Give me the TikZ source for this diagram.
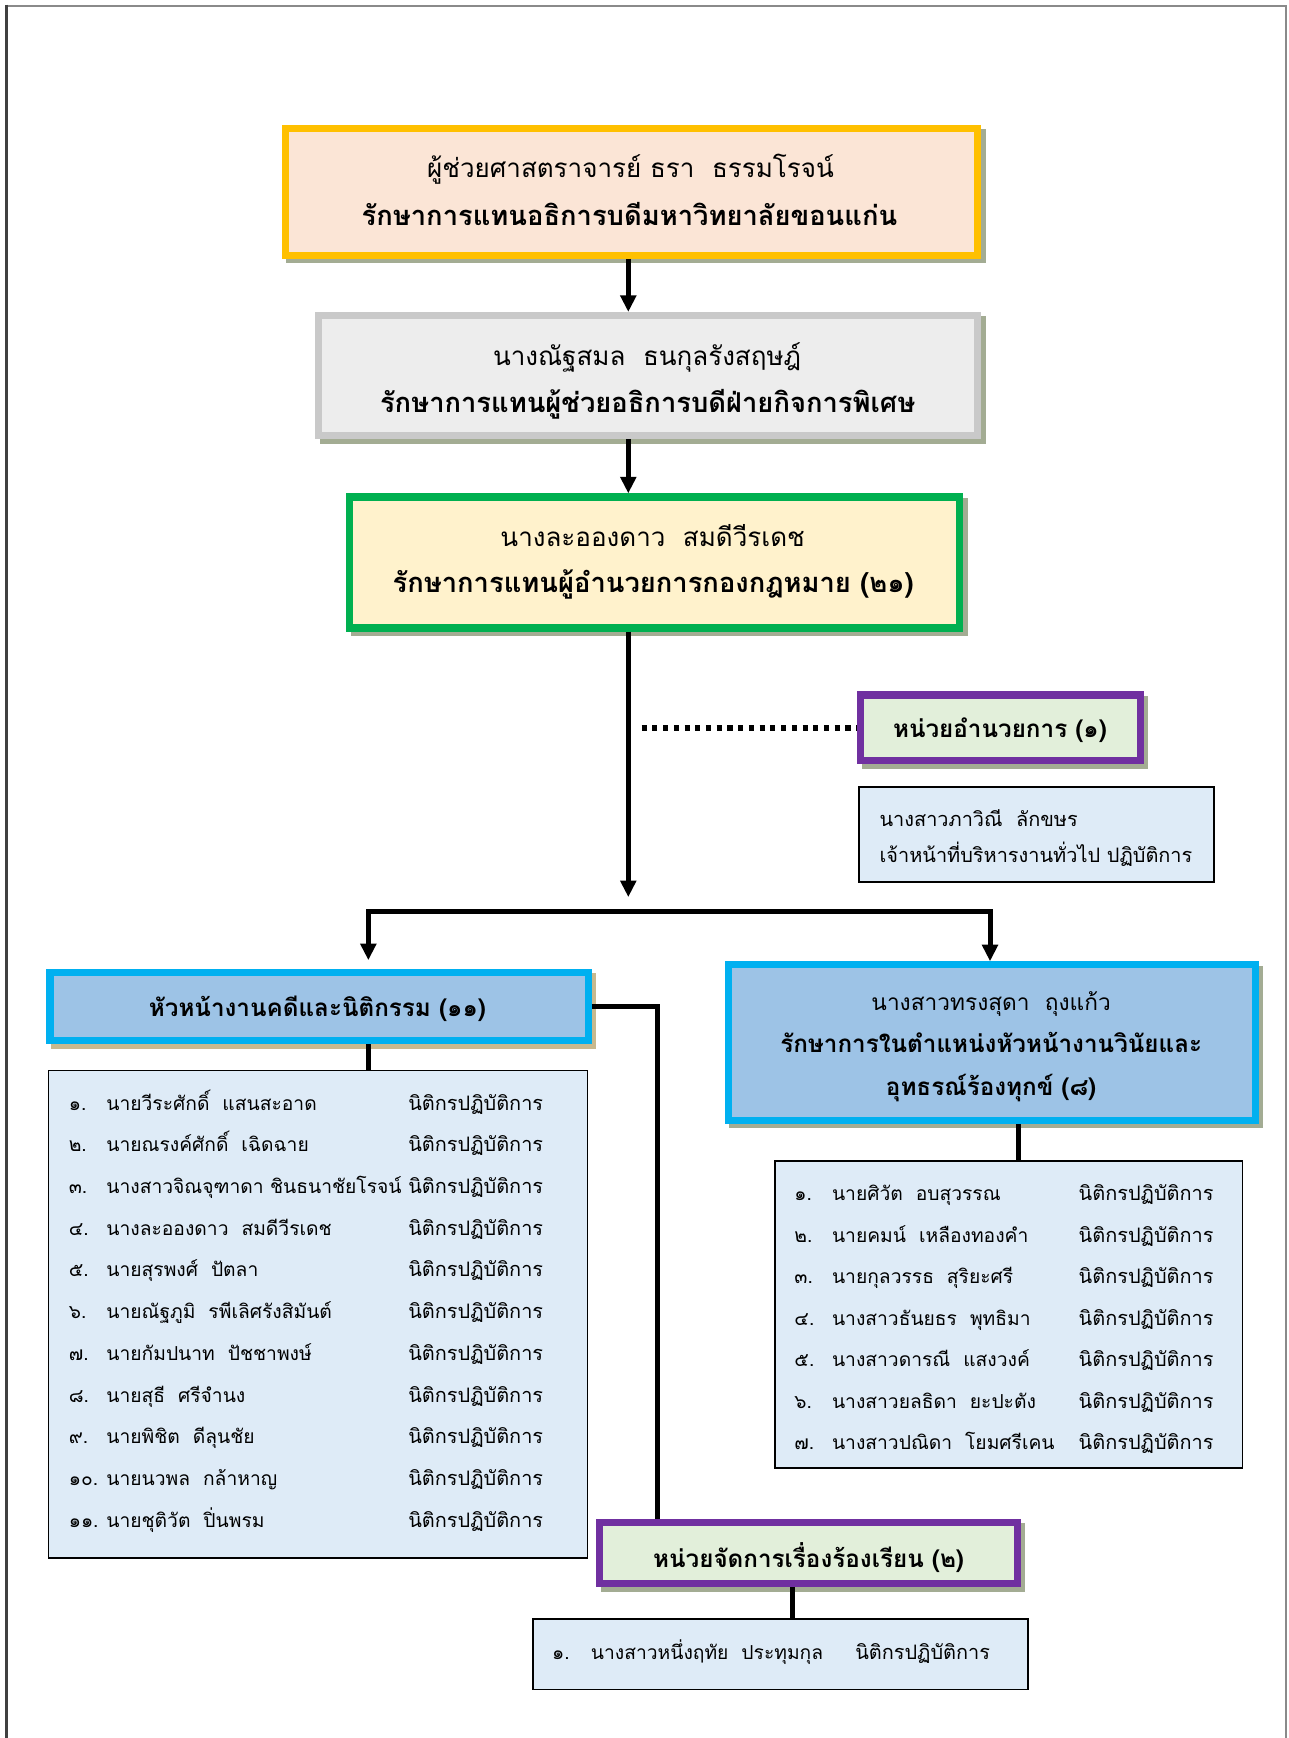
\documentclass[tikz,border=0pt]{standalone}
\usepackage{fontspec}
\setmainfont[Script=Thai]{Loma}
\usetikzlibrary{arrows.meta,shadows}
\definecolor{orgB}{HTML}{FFC000}
\definecolor{orgF}{HTML}{FBE5D6}
\definecolor{gryB}{HTML}{C9C9C9}
\definecolor{gryF}{HTML}{EDEDED}
\definecolor{grnB}{HTML}{00B050}
\definecolor{grnF}{HTML}{FFF2CC}
\definecolor{purB}{HTML}{7030A0}
\definecolor{purF}{HTML}{E2EFDA}
\definecolor{bluB}{HTML}{00B0F0}
\definecolor{bluF}{HTML}{9DC3E6}
\definecolor{lstF}{HTML}{DEEBF7}
\definecolor{shdG}{HTML}{A3AC93}
\definecolor{shdT}{HTML}{C8B98E}
\definecolor{frmL}{HTML}{404040}
\definecolor{frmG}{HTML}{8A8A8A}
\tikzset{
  tbox/.style={rectangle, line width=6.5pt, inner sep=0pt,
    drop shadow={shadow xshift=4pt, shadow yshift=-4pt, fill=shdG, draw=shdG, opacity=1}},
  tboxT/.style={rectangle, line width=6.5pt, inner sep=0pt,
    drop shadow={shadow xshift=4pt, shadow yshift=-4pt, fill=shdT, draw=shdT, opacity=1}},
  lbox/.style={rectangle, draw=black, line width=1.5pt, fill=lstF, inner sep=0pt},
  hreg/.style={font=\fontsize{23.5}{28}\selectfont, anchor=mid, inner sep=0pt},
  hbold/.style={font=\fontsize{24.7}{29}\selectfont\bfseries, anchor=mid, inner sep=0pt},
  sreg/.style={font=\fontsize{20.5}{25}\selectfont, anchor=mid, inner sep=0pt},
  sbold/.style={font=\fontsize{21.9}{26}\selectfont\bfseries, anchor=mid, inner sep=0pt},
  lreg/.style={font=\fontsize{18}{22}\selectfont, anchor=mid west, inner sep=0pt},
  lname/.style={font=\fontsize{17.4}{21}\selectfont, anchor=mid west, inner sep=0pt},
  conn/.style={line width=4.5pt},
  arrowc/.style={conn, -{Triangle[width=14pt,length=15pt]}},
  dotc/.style={line width=4.8pt, dash pattern=on 4.6pt off 5.1pt}
}
\begin{document}
\begin{tikzpicture}[x=1pt,y=-1pt]
\useasboundingbox (0,0) rectangle (1165.2,1571.2);
% page frame
\draw[frmG, line width=2pt] (5.9,5.2) -- (1162.6,5.2) -- (1162.6,1580);
\draw[frmL, line width=2pt] (5.9,4.2) -- (5.9,1580);

% boxes
\node[tbox, draw=orgB, fill=orgF, minimum width=625.5pt, minimum height=114.5pt] (b1) at (571,173.5) {};
\node[tbox, draw=gryB, fill=gryF, minimum width=595.5pt, minimum height=108.5pt] (b2) at (586,339.5) {};
\node[tbox, draw=grnB, fill=grnF, minimum width=551.5pt, minimum height=118.5pt] (b3) at (592,508.5) {};
\node[tbox, draw=purB, fill=purF, minimum width=252.5pt, minimum height=59.5pt] (ua) at (904.5,658) {};
\node[lbox, minimum width=320.5pt, minimum height=85.5pt] (uas) at (937,754.5) {};
\node[tboxT, draw=bluB, fill=bluF, minimum width=486.5pt, minimum height=61.5pt] (lh) at (288.5,910) {};
\node[lbox, minimum width=487.5pt, minimum height=440.5pt] (ll) at (287.5,1188) {};
\node[tbox, draw=bluB, fill=bluF, minimum width=476.5pt, minimum height=140.5pt] (rh) at (896.5,942.5) {};
\node[lbox, minimum width=422.5pt, minimum height=277.5pt] (rl) at (912,1188.5) {};
\node[tbox, draw=purB, fill=purF, minimum width=377.5pt, minimum height=55.5pt] (bh) at (731,1404) {};
\node[lbox, minimum width=447.5pt, minimum height=63.5pt] (bl) at (705.5,1495.5) {};

% texts
\node[hreg] (b1a) at (570,158) {ผู้ช่วยศาสตราจารย์ ธรา~ ธรรมโรจน์};
\node[hbold] (b1b) at (569,201) {รักษาการแทนอธิการบดีมหาวิทยาลัยขอนแก่น};
\node[hreg] (b2a) at (585,328) {นางณัฐสมล~ ธนกุลรังสฤษฎ์};
\node[hbold] (b2b) at (585.5,370) {รักษาการแทนผู้ช่วยอธิการบดีฝ่ายกิจการพิเศษ};
\node[hreg] (b3a) at (590,491) {นางละอองดาว~ สมดีวีรเดช};
\node[hbold] (b3b) at (590.5,533) {รักษาการแทนผู้อำนวยการกองกฎหมาย (๒๑)};
\node[sbold] (uat) at (904,664) {หน่วยอำนวยการ (๑)};
\node[lreg] (uas1) at (795,745) {นางสาวภาวิณี~ ลักขษร};
\node[lreg] (uas2) at (795,777) {เจ้าหน้าที่บริหารงานทั่วไป ปฏิบัติการ};
\node[sbold] (lht) at (287,916) {หัวหน้างานคดีและนิติกรรม (๑๑)};
\node[sreg] (rha) at (896,911) {นางสาวทรงสุดา~ ถุงแก้ว};
\node[sbold] (rhb) at (896,949) {รักษาการในตำแหน่งหัวหน้างานวินัยและ};
\node[sbold] (rhc) at (896,988) {อุทธรณ์ร้องทุกข์ (๘)};
\node[sbold] (bht) at (731,1414) {หน่วยจัดการเรื่องร้องเรียน (๒)};

\foreach \n/\nm [count=\i] in {๑./นายวีระศักดิ์~ แสนสะอาด, ๒./นายณรงค์ศักดิ์~ เฉิดฉาย,
  ๓./นางสาวจิณจุฑาดา ชินธนาชัยโรจน์, ๔./นางละอองดาว~ สมดีวีรเดช, ๕./นายสุรพงศ์~ ปัตลา,
  ๖./นายณัฐภูมิ~ รพีเลิศรังสิมันต์, ๗./นายกัมปนาท~ ปัชชาพงษ์, ๘./นายสุธี~ ศรีจำนง,
  ๙./นายพิชิต~ ดีลุนชัย, ๑๐./นายนวพล~ กล้าหาญ, ๑๑./นายชุติวัต~ ปิ่นพรม}{
  \pgfmathsetmacro\yy{1001+(\i-1)*37.7}
  \node[lname] (Ln\i) at (62,\yy) {\n};
  \node[lname] (Lm\i) at (96,\yy) {\nm};
  \node[lreg] (Lr\i) at (369,\yy) {นิติกรปฏิบัติการ};
}
\foreach \n/\nm [count=\i] in {๑./นายศิวัต~ อบสุวรรณ, ๒./นายคมน์~ เหลืองทองคำ,
  ๓./นายกุลวรรธ~ สุริยะศรี, ๔./นางสาวธันยธร~ พุทธิมา, ๕./นางสาวดารณี~ แสงวงค์,
  ๖./นางสาวยลธิดา~ ยะปะตัง, ๗./นางสาวปณิดา~ โยมศรีเคน}{
  \pgfmathsetmacro\yy{1083+(\i-1)*37.5}
  \node[lname] (Rn\i) at (718,\yy) {\n};
  \node[lname] (Rm\i) at (752,\yy) {\nm};
  \node[lreg] (Rr\i) at (975,\yy) {นิติกรปฏิบัติการ};
}
\node[lname] (Bn1) at (499,1498) {๑.};
\node[lname] (Bm1) at (534,1498) {นางสาวหนึ่งฤทัย~ ประทุมกุล};
\node[lreg] (Br1) at (773,1498) {นิติกรปฏิบัติการ};

% connectors
\coordinate (spine) at (568,0);
\coordinate (spineEnd) at (568,811);
\coordinate (dotS) at (580,0);
\coordinate (hL) at (333,824);
\coordinate (hR) at (895,824);
\coordinate (vx) at (594,0);
\draw[arrowc] (b1.south -| spine) -- (b2.north -| spine);
\draw[arrowc] (b2.south -| spine) -- (b3.north -| spine);
\draw[arrowc] (b3.south -| spine) -- (spineEnd);
\draw[dotc] (ua.west -| dotS) -- (ua.west);
\draw[conn, line cap=rect] (hL) -- (hR);
\draw[arrowc] (hL) -- ([yshift=8pt]lh.north -| hL);
\draw[arrowc] (hR) -- (rh.north -| hR);
\draw[conn] (lh.south -| hL) -- (ll.north -| hL);
\draw[conn] (rh.south -| 921,0) -- (rl.north -| 921,0);
\draw[conn] (lh.east) -| (bh.north -| vx);
\draw[conn] (bh.south -| 716,0) -- (bl.north -| 716,0);
\end{tikzpicture}
\end{document}
